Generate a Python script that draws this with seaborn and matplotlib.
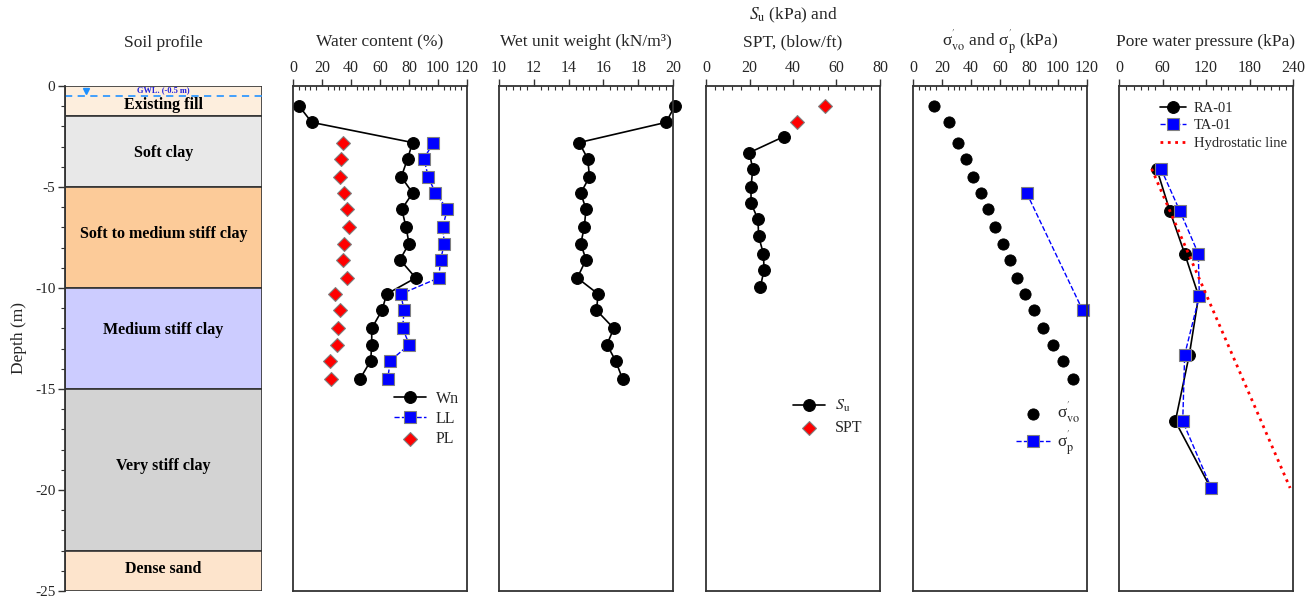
import matplotlib.pyplot as plt
import seaborn as sns
from matplotlib.ticker import MultipleLocator

sns.set_theme(style="white")
plt.rcParams['font.family'] = ['Liberation Serif', 'DejaVu Serif']
plt.rcParams['mathtext.fontset'] = 'stix'
plt.rcParams['axes.unicode_minus'] = False

# soil layers
layer_names = ['Existing fill', 'Soft clay', 'Soft to medium stiff clay',
               'Medium stiff clay', 'Very stiff clay', 'Dense sand']
layer_top = [0, -1.5, -5, -10, -15, -23]
layer_bottom = [-1.5, -5, -10, -15, -23, -25]
layer_colors = ['#FDEEDD', '#E8E8E8', '#FCCB99', '#CCCCFF', '#D3D3D3', '#FDE4CC']
gwl = -0.5

# sample depths (m)
depth = [-1.0, -1.8, -2.8, -3.6, -4.5, -5.3, -6.1, -7.0, -7.8, -8.6, -9.5,
         -10.3, -11.1, -12.0, -12.8, -13.6, -14.5]
depth_lim = [-2.8, -3.6, -4.5, -5.3, -6.1, -7.0, -7.8, -8.6, -9.5,
             -10.3, -11.1, -12.0, -12.8, -13.6, -14.5]

# water content (%)
wn = [4.3, 12.9, 82.5, 79.0, 74.7, 82.5, 75.0, 78.0, 80.0, 73.8, 84.6,
      64.6, 61.4, 54.3, 54.3, 53.6, 46.2]
ll = [96.8, 90.3, 93.3, 98.2, 106.4, 103.2, 104.4, 101.8, 100.5,
      74.3, 76.6, 75.6, 80.2, 67.1, 65.3]
pl = [34.7, 33.1, 32.4, 35.4, 37.0, 38.9, 35.4, 34.7, 37.2,
      29.2, 32.4, 31.0, 30.3, 25.5, 26.0]

# wet unit weight (kN/m3)
gamma = [20.1, 19.6, 14.6, 15.1, 15.2, 14.7, 15.0, 14.9, 14.7, 15.0, 14.5,
         15.7, 15.6, 16.6, 16.2, 16.7, 17.1]

# undrained shear strength and SPT
depth_su = [-2.5, -3.3, -4.1, -5.0, -5.8, -6.6, -7.45, -8.3, -9.1, -9.95]
su = [35.9, 19.9, 21.5, 20.7, 20.7, 23.9, 24.2, 26.4, 26.7, 25.0]
depth_spt = [-1.0, -1.8]
spt = [54.7, 41.7]

# effective stresses (kPa)
sigma_vo = [14.5, 24.6, 31.0, 36.6, 41.6, 46.7, 51.9, 56.8, 62.1, 67.1, 71.5,
            77.5, 83.4, 89.9, 96.8, 103.7, 110.6]
depth_sp = [-5.3, -11.1]
sigma_p = [78.4, 117.0]

# pore water pressure (kPa)
depth_pwp = [-4.1, -6.2, -8.3, -10.4, -13.3, -16.6, -19.9]
ra01 = [52.0, 70.3, 90.6, 109.9, 97.0, 77.7, 126.4]
ta01 = [57.9, 84.1, 109.4, 110.8, 90.6, 87.9, 127.3]
depth_hydro = [-4.1, -19.9]
hydro = [45, 236]

W, H = 1315, 601
fig = plt.figure(figsize=(W / 100, H / 100), dpi=100)

edge = '#333333'
blue = '#0000FF'
top_px, bot_px = 86, 591


def panel(left, title, pad=7, **kw):
    ax = fig.add_axes([left / W, (H - bot_px) / H, 174 / W, (bot_px - top_px) / H])
    ax.set_title(title, fontsize=12.5, pad=pad, **kw)
    return ax


def finish(ax, xlim, major, minor):
    ax.set_xlim(xlim)
    ax.set_ylim(-25, 0)
    ax.set_xlabel('')
    ax.set_ylabel('')
    ax.xaxis.tick_top()
    ax.set_xticks(major)
    ax.xaxis.set_minor_locator(MultipleLocator(minor))
    ax.tick_params(axis='x', which='major', direction='out', length=5, width=1,
                   color=edge, labelsize=11.5, pad=2, top=True, bottom=False)
    ax.tick_params(axis='x', which='minor', direction='in', length=3, width=0.8,
                   color=edge, top=True, bottom=False)
    ax.set_yticks([])
    for s in ax.spines.values():
        s.set_color(edge)
        s.set_linewidth(1.3)


# ---- soil profile ----
ax0 = fig.add_axes([65 / W, (H - bot_px) / H, 197 / W, (bot_px - top_px) / H])
label_depth = [-0.95, -3.3, -7.35, -12.1, -18.8, -23.9]
for name, top, bot, col, ly in zip(layer_names, layer_top, layer_bottom,
                                   layer_colors, label_depth):
    ax0.bar(0.5, bot - top, bottom=top, width=1, color=col, edgecolor=edge,
            linewidth=1.2)
    ax0.text(0.5, ly, name, ha='center', va='center', fontsize=11.5,
             fontweight='bold', color='black')
ax0.axhline(gwl, color='#3399FF', linestyle='--', linewidth=1.3, dashes=(4, 3))
ax0.plot(0.107, -0.25, marker='v', color='#1E90FF', markersize=5)
ax0.text(0.5, -0.22, 'GWL. (-0.5 m)', ha='center', va='center', fontsize=6,
         fontweight='bold', color='#2222DD')
ax0.set_xlim(0, 1)
ax0.set_ylim(-25, 0)
ax0.set_xticks([])
ax0.set_yticks([0, -5, -10, -15, -20, -25])
ax0.yaxis.set_minor_locator(MultipleLocator(1))
ax0.tick_params(axis='y', which='major', direction='out', length=5, width=1,
                color=edge, labelsize=11, left=True, pad=2)
ax0.tick_params(axis='y', which='minor', direction='out', length=3, width=0.8,
                color=edge, left=True)
for k in ['top', 'right', 'bottom']:
    ax0.spines[k].set_visible(False)
ax0.spines['left'].set_color(edge)
ax0.spines['left'].set_linewidth(1.3)
ax0.set_ylabel('Depth (m)', fontsize=12.5, labelpad=6)
ax0.set_title('Soil profile', fontsize=12.5, pad=28)

# ---- water content ----
ax1 = panel(293, 'Water content (%)', pad=10)
sns.lineplot(x=wn, y=depth, sort=False, estimator=None, color='black',
             marker='o', markersize=8.5, markeredgecolor='black', linewidth=1.2,
             label='Wn', ax=ax1)
sns.lineplot(x=ll, y=depth_lim, sort=False, estimator=None, color=blue,
             linestyle='--', marker='s', markersize=8, markerfacecolor=blue,
             markeredgecolor='gray', markeredgewidth=0.8, linewidth=1.0,
             label='LL', ax=ax1)
sns.scatterplot(x=pl, y=depth_lim, marker='D', color='red', edgecolor='gray',
                linewidth=0.8, s=50, label='PL', zorder=3, ax=ax1)
ax1.legend(loc='upper left', bbox_to_anchor=(0.50, 0.425), frameon=False,
           fontsize=11.5, handlelength=2, labelspacing=0.25, handletextpad=0.6)
finish(ax1, (0, 120), range(0, 121, 20), 4)

# ---- wet unit weight ----
ax2 = panel(499, 'Wet unit weight (kN/m³)', pad=10)
sns.lineplot(x=gamma, y=depth, sort=False, estimator=None, color='black',
             marker='o', markersize=8.5, markeredgecolor='black', linewidth=1.2,
             ax=ax2)
finish(ax2, (10, 20), range(10, 21, 2), 0.4)
for ln in ax2.lines:
    ln.set_clip_on(False)

# ---- Su and SPT ----
ax3 = panel(706, '$S_\\mathrm{u}$ (kPa) and\nSPT, (blow/ft)', pad=10,
            linespacing=1.8)
sns.lineplot(x=su, y=depth_su, sort=False, estimator=None, color='black',
             marker='o', markersize=8.5, markeredgecolor='black', linewidth=1.2,
             label='$S_\\mathrm{u}$', ax=ax3)
sns.scatterplot(x=spt, y=depth_spt, marker='D', color='red', edgecolor='gray',
                linewidth=0.8, s=50, label='SPT', zorder=3, ax=ax3)
ax3.legend(loc='upper left', bbox_to_anchor=(0.42, 0.41), frameon=False,
           fontsize=11.5, handlelength=2, labelspacing=0.35, handletextpad=0.6)
finish(ax3, (0, 80), range(0, 81, 20), 4)

# ---- effective stresses ----
ax4 = panel(913, "σ$^{'}_{\\mathrm{vo}}$ and σ$^{'}_{\\mathrm{p}}$ (kPa)", pad=10)
sns.scatterplot(x=sigma_vo, y=depth, marker='o', color='black',
                edgecolor='black', s=65, label="σ$^{'}_{\\mathrm{vo}}$",
                zorder=3, ax=ax4)
sns.lineplot(x=sigma_p, y=depth_sp, sort=False, estimator=None, color=blue,
             linestyle='--', marker='s', markersize=8, markerfacecolor=blue,
             markeredgecolor='gray', markeredgewidth=0.8, linewidth=1.0,
             label="σ$^{'}_{\\mathrm{p}}$", ax=ax4)
ax4.legend(loc='upper left', bbox_to_anchor=(0.50, 0.41), frameon=False,
           fontsize=12.5, handlelength=2, labelspacing=0.15, handletextpad=0.4)
finish(ax4, (0, 120), range(0, 121, 20), 4)
for ln in ax4.lines:
    ln.set_clip_on(False)
for c in ax4.collections:
    c.set_clip_on(False)

# ---- pore water pressure ----
ax5 = panel(1119, 'Pore water pressure (kPa)', pad=10)
sns.lineplot(x=ra01, y=depth_pwp, sort=False, estimator=None, color='black',
             marker='o', markersize=8.5, markeredgecolor='black', linewidth=1.2,
             label='RA-01', ax=ax5)
sns.lineplot(x=ta01, y=depth_pwp, sort=False, estimator=None, color=blue,
             linestyle='--', marker='s', markersize=8, markerfacecolor=blue,
             markeredgecolor='gray', markeredgewidth=0.8, linewidth=1.0,
             label='TA-01', ax=ax5)
sns.lineplot(x=hydro, y=depth_hydro, sort=False, estimator=None, color='red',
             linestyle=':', linewidth=2, label='Hydrostatic line', ax=ax5)
ax5.legend(loc='upper left', bbox_to_anchor=(0.16, 0.995), frameon=False,
           fontsize=10.5, handlelength=1.8, labelspacing=0.3, handletextpad=0.5)
finish(ax5, (0, 240), range(0, 241, 60), 10)

fig.savefig('out.png', dpi=100)
